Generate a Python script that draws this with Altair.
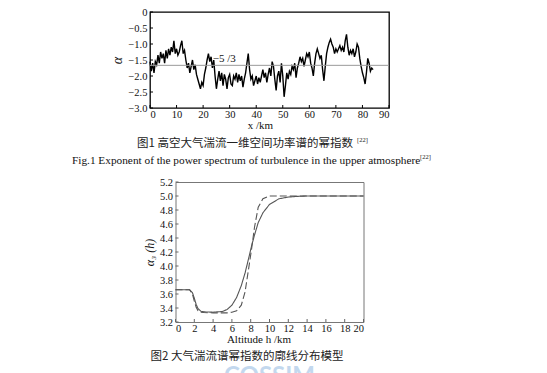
import altair as alt
import pandas as pd

# ---------------- data: figure 1 ----------------
x_km = [i * 0.5 for i in range(169)]
alpha = [
    -1.55, -1.85, -1.6, -1.9, -1.55, -1.65, -1.35, -1.6, -1.25, -1.45,
    -1.3, -1.6, -1.2, -1.45, -1.15, -1.35, -1.1, -1.25, -0.9, -1.3,
    -1.15, -1.35, -1.25, -1.05, -0.9, -1.3, -1.2, -1.5, -1.75, -1.6,
    -1.9, -1.7, -1.5, -1.8, -1.65, -1.95, -2.1, -2.25, -2.4, -2.2,
    -2.3, -1.95, -1.75, -1.5, -1.3, -1.55, -1.4, -1.75, -1.5, -2.0,
    -2.4, -2.1, -1.85, -2.15, -1.9, -2.3, -1.95, -2.1, -2.4, -2.05,
    -1.95, -2.25, -2.3, -2.0, -2.1, -1.9, -2.2, -1.95, -2.15, -2.0,
    -2.35, -2.1, -1.9, -1.6, -1.3, -1.8, -2.1, -2.0, -2.3, -2.15,
    -2.0, -2.25, -2.05, -2.2, -2.0, -1.8, -2.05, -1.9, -2.2, -1.95,
    -1.75, -2.0, -1.55, -1.7, -2.1, -2.45, -2.0, -1.85, -2.2, -1.6,
    -2.0, -2.65, -2.3, -1.9, -2.1, -1.85, -1.95, -1.7, -1.8, -1.6,
    -2.05, -1.75, -1.6, -1.4, -1.55, -1.45, -1.7, -1.5, -1.3, -1.4,
    -1.25, -1.6, -1.75, -2.0, -1.6, -1.3, -1.15, -1.3, -1.45, -1.35,
    -1.8, -2.15, -1.7, -1.3, -1.1, -0.95, -0.85, -1.0, -1.1, -1.3,
    -1.15, -1.25, -1.15, -1.05, -1.2, -1.1, -1.25, -0.9, -0.7, -1.1,
    -1.35, -1.2, -1.3, -1.15, -1.4, -1.25, -1.0, -1.1, -1.45, -1.7,
    -1.9, -2.05, -2.25, -1.9, -1.45, -1.6, -1.85, -1.75, -1.8,
]
ref_value = -5 / 3
ref_label = "−5 /3"
ref_label_x = [28]
top_x_ticks = [0, 10, 20, 30, 40, 50, 60, 70, 80, 90]
top_y_ticks = [0, -0.5, -1.0, -1.5, -2.0, -2.5, -3.0]

# ---------------- data: figure 2 ----------------
h_km = [0, 1, 1.5, 1.8, 2.0, 2.2, 2.4, 2.7, 3, 4, 5, 5.5, 6, 6.5, 7, 7.4,
        7.8, 8.1, 8.4, 8.8, 9.3, 10, 11, 12, 13, 14, 20]
solid = [3.66, 3.66, 3.66, 3.62, 3.54, 3.45, 3.39, 3.355, 3.345, 3.34, 3.35,
         3.38, 3.44, 3.55, 3.72, 3.9, 4.12, 4.29, 4.44, 4.62, 4.76, 4.88,
         4.96, 4.985, 4.995, 5.0, 5.0]
dashed = [3.66, 3.66, 3.66, 3.6, 3.5, 3.41, 3.36, 3.34, 3.335, 3.33, 3.33,
          3.33, 3.34, 3.36, 3.44, 3.63, 3.98, 4.25, 4.55, 4.84, 4.96, 5.0,
          5.0, 5.0, 5.0, 5.0, 5.0]
bot_x_ticks = [0, 2, 4, 6, 8, 10, 12, 14, 16, 18, 20]
bot_y_ticks = [3.2, 3.4, 3.6, 3.8, 4.0, 4.2, 4.4, 4.6, 4.8, 5.0, 5.2]

cap1_cn = "图1  高空大气湍流一维空间功率谱的幂指数"
cap1_en = "Fig.1  Exponent of the power spectrum of turbulence in the upper atmosphere"
cap2_cn = "图2  大气湍流谱幂指数的廓线分布模型"
cite = "[22]"
watermark = "COSSIM"

SERIF = "Liberation Serif"
CJK = "Noto Sans CJK SC"

W1, H1 = 239, 96
W2, H2 = 188, 140


def txt(s, x, y, **kw):
    return alt.Chart(pd.DataFrame({"t": [s]})).mark_text(**kw).encode(
        x=alt.value(x), y=alt.value(y), text="t:N")


ax_common = dict(domain=False, ticks=False, labelFont=SERIF, labelFontSize=10.5,
                 labelColor="#111", titleFont=SERIF,
                 titleFontWeight="normal", titleColor="#111", grid=False)

# ---------------- top chart ----------------
xs1 = alt.Scale(domain=[0, 90], nice=False)
ys1 = alt.Scale(domain=[-3, 0], nice=False)
xax1 = alt.Axis(values=top_x_ticks, title="x /km", titleFontSize=11, titlePadding=0,
                labelPadding=1, titleX=110, format="d", **ax_common)
yax1 = alt.Axis(values=top_y_ticks, title="α", titleFontSize=14, titleFontStyle="italic",
                titlePadding=3, labelPadding=3,
                labelExpr="datum.value == 0 ? '0' : format(datum.value, '.1f')", **ax_common)

line1 = alt.Chart(pd.DataFrame({"x": x_km, "a": alpha})).mark_line(
    color="black", strokeWidth=1.4).encode(
    x=alt.X("x:Q", scale=xs1, axis=xax1),
    y=alt.Y("a:Q", scale=ys1, axis=yax1),
)
ref_rule = alt.Chart(pd.DataFrame({"y": [ref_value]})).mark_rule(
    color="#999", strokeWidth=1).encode(y=alt.Y("y:Q", scale=ys1, axis=yax1))
ref_text = alt.Chart(pd.DataFrame({"x": ref_label_x, "y": [ref_value], "t": [ref_label]})).mark_text(
    font=SERIF, fontSize=11, baseline="bottom", dy=-1, color="#111").encode(
    x=alt.X("x:Q", scale=xs1, axis=xax1), y=alt.Y("y:Q", scale=ys1, axis=yax1), text="t:N")
xt1 = alt.Chart(pd.DataFrame({"t": top_x_ticks})).mark_rule(color="black").encode(
    x=alt.X("t:Q", scale=xs1, axis=xax1), y=alt.value(H1), y2=alt.value(H1 - 3))
yt1 = alt.Chart(pd.DataFrame({"t": top_y_ticks})).mark_rule(color="black").encode(
    y=alt.Y("t:Q", scale=ys1, axis=yax1), x=alt.value(0), x2=alt.value(3))

top = alt.layer(
    line1, ref_rule, ref_text, xt1, yt1,
    txt(cap1_cn, -13, 132, font=CJK, fontSize=11.5, align="left", baseline="middle", color="#222"),
    txt(cite, 207, 128, font=SERIF, fontSize=6.5, align="left", baseline="middle", color="#222"),
    txt(cap1_en, -78, 149, font=SERIF, fontSize=11.3, align="left",
        baseline="middle", color="#111"),
    txt(cite, 270, 145, font=SERIF, fontSize=6.5, align="left", baseline="middle", color="#222"),
).properties(width=W1, height=H1,
             view=alt.ViewBackground(stroke="black", strokeWidth=1.3))

# ---------------- bottom chart ----------------
xs2 = alt.Scale(domain=[0, 20], nice=False)
ys2 = alt.Scale(domain=[3.2, 5.2], nice=False)
xax2 = alt.Axis(values=bot_x_ticks, title="Altitude h /km", titleFontSize=11,
                titlePadding=0, labelPadding=1, titleX=83, format="d", **ax_common)
yax2 = alt.Axis(values=bot_y_ticks, title="α₃ (h)", titleFontSize=12,
                titleFontStyle="italic", titlePadding=3, labelPadding=3, format=".1f",
                **ax_common)
df2 = pd.DataFrame({"h": h_km + h_km, "v": solid + dashed,
                    "s": ["solid"] * len(h_km) + ["dashed"] * len(h_km)})

lines2 = alt.Chart(df2).mark_line(color="#555", strokeWidth=1.1).encode(
    x=alt.X("h:Q", scale=xs2, axis=xax2),
    y=alt.Y("v:Q", scale=ys2, axis=yax2),
    detail="s:N",
    strokeDash=alt.StrokeDash("s:N", scale=alt.Scale(domain=["solid", "dashed"],
                              range=[[1, 0], [7, 3]]), legend=None),
)
xt2 = alt.Chart(pd.DataFrame({"t": bot_x_ticks})).mark_rule(color="#666").encode(
    x=alt.X("t:Q", scale=xs2, axis=xax2), y=alt.value(H2), y2=alt.value(H2 - 3))
yt2 = alt.Chart(pd.DataFrame({"t": bot_y_ticks})).mark_rule(color="#666").encode(
    y=alt.Y("t:Q", scale=ys2, axis=yax2), x=alt.value(0), x2=alt.value(3))

bottom = alt.layer(
    lines2, xt2, yt2,
    txt(cap2_cn, -25, 175, font=CJK, fontSize=11.5, align="left", baseline="middle", color="#222"),
    txt(watermark, 94, 183, font="Lato", fontSize=24, fontWeight="bold", align="center",
        baseline="top", color="#b9d2ec", opacity=0.85),
).properties(width=W2, height=H2,
             view=alt.ViewBackground(stroke="#777", strokeWidth=1))

chart = alt.vconcat(top, bottom, spacing=74, center=True, bounds="flush").properties(
    padding={"left": 63, "top": -2, "right": 5, "bottom": 0},
    background="white",
)

chart.save("out.html", embed_options={"renderer": "svg", "actions": False})
